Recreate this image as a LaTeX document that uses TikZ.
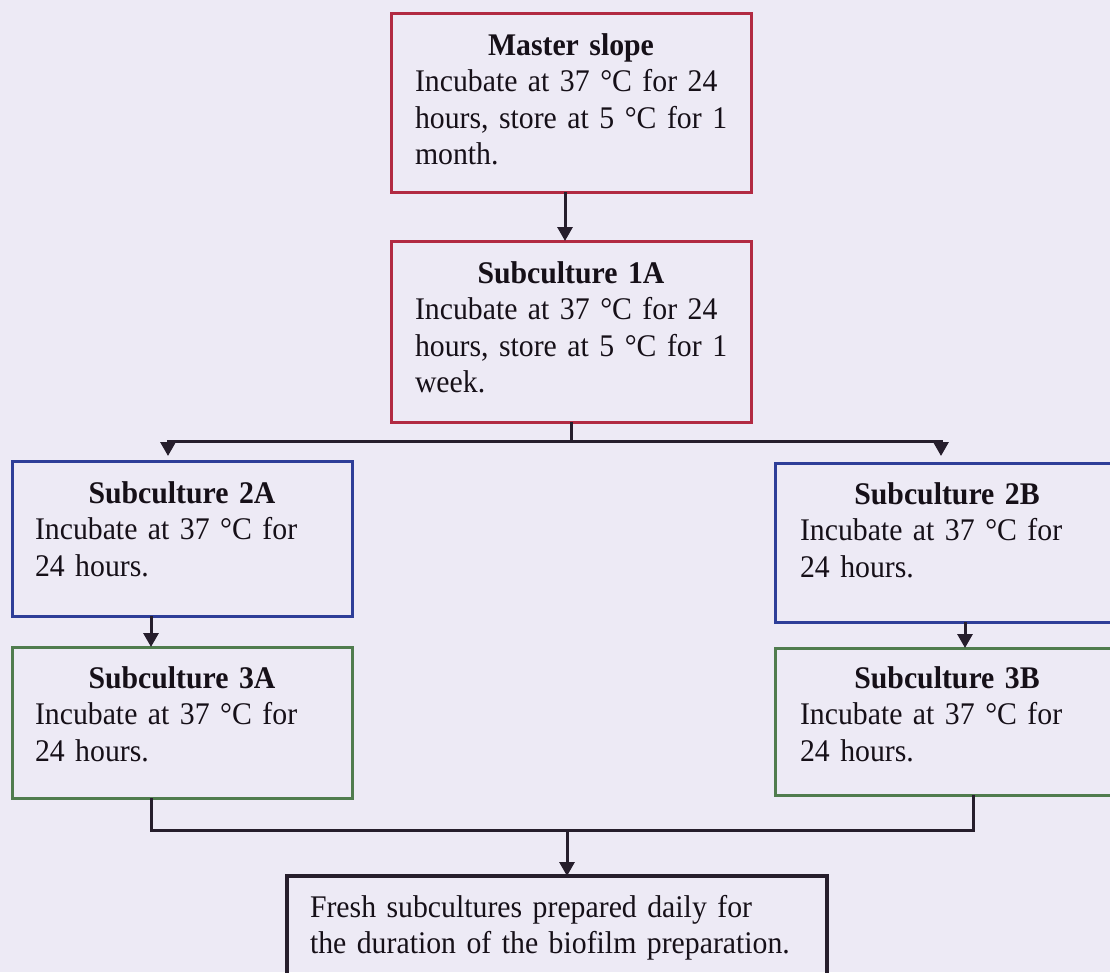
\documentclass[tikz,border=0pt]{standalone}
\usepackage{fontspec}
\setmainfont{Liberation Serif}[WordSpace=0.75, FakeStretch=0.945]
\usetikzlibrary{arrows.meta}

\definecolor{pagebg}{RGB}{237,234,245}
\definecolor{boxred}{RGB}{178,42,66}
\definecolor{boxblue}{RGB}{46,62,152}
\definecolor{boxgreen}{RGB}{80,124,78}
\definecolor{boxblack}{RGB}{38,30,44}
\definecolor{ink}{RGB}{22,16,24}

% a centred heading line of a given width
\newcommand{\boxhead}[2]{\hbox to #1{\hss\bfseries #2\hss}}

\begin{document}
\begin{tikzpicture}[x=1pt,y=-1pt,
  box/.style={draw, rectangle, line width=3pt, inner sep=0pt, outer sep=0pt, anchor=north west},
  redbox/.style={box, draw=boxred},
  bluebox/.style={box, draw=boxblue},
  greenbox/.style={box, draw=boxgreen},
  blackbox/.style={box, draw=boxblack, line width=4pt},
  txt/.style={anchor=base west, inner sep=0pt, outer sep=0pt, align=left, text=ink,
              text width=400pt, font=\fontsize{31.5}{36.5}\selectfont},
  link/.style={draw=boxblack, line width=3pt},
  arr/.style={link, -{Triangle[width=15pt,length=14pt]}},
]
% page
\fill[pagebg] (0,0) rectangle (1110,972);
\useasboundingbox (0,0) rectangle (1110,972);
\clip (0,0) rectangle (1110,972);

% boxes
\node[redbox, minimum width=360pt, minimum height=179pt] (master) at (391,13) {};
\node[redbox, minimum width=360pt, minimum height=181pt] (sub1a) at (391,241) {};
\node[bluebox, minimum width=340pt, minimum height=155pt] (sub2a) at (12,461) {};
\node[greenbox, minimum width=340pt, minimum height=151pt] (sub3a) at (12,647) {};
\node[bluebox, minimum width=344pt, minimum height=159pt] (sub2b) at (775,463) {};
\node[greenbox, minimum width=344pt, minimum height=147pt] (sub3b) at (775,648) {};
\node[blackbox, minimum width=540pt, minimum height=140pt] (final) at (287,876) {};

% box texts
\node[txt] (mastertxt) at (415,55)
  {\boxhead{312pt}{Master slope}\\Incubate at 37 °C for 24\\hours, store at 5 °C for 1\\month.};
\node[txt] (sub1atxt) at (415,283)
  {\boxhead{312pt}{Subculture 1A}\\Incubate at 37 °C for 24\\hours, store at 5 °C for 1\\week.};
\node[txt] (sub2atxt) at (35,503)
  {\boxhead{294pt}{Subculture 2A}\\Incubate at 37 °C for\\24 hours.};
\node[txt] (sub3atxt) at (35,688)
  {\boxhead{294pt}{Subculture 3A}\\Incubate at 37 °C for\\24 hours.};
\node[txt] (sub2btxt) at (800,504)
  {\boxhead{294pt}{Subculture 2B}\\Incubate at 37 °C for\\24 hours.};
\node[txt] (sub3btxt) at (800,688)
  {\boxhead{294pt}{Subculture 3B}\\Incubate at 37 °C for\\24 hours.};
\node[txt, text width=520pt] (finaltxt) at (310,917)
  {Fresh subcultures prepared daily for\\the duration of the biofilm preparation.};

% connectors
\draw[arr] ([xshift=-6pt]master.south) -- ([xshift=-6pt]sub1a.north);

\coordinate (split) at (571,441);
\coordinate (in2a) at ([xshift=-14pt]sub2a.north);
\coordinate (in2b) at ([xshift=-6pt]sub2b.north);
\draw[link] (sub1a.south) -- (split);
\draw[arr, shorten >=5pt] (split) -| (in2a);
\draw[arr, shorten >=7pt] (split) -| (in2b);

\draw[arr] ([xshift=-31pt]sub2a.south) -- ([xshift=-31pt]sub3a.north);
\draw[arr] ([xshift=18pt]sub2b.south) -- ([xshift=18pt]sub3b.north);

\coordinate (merge) at (567,830);
\draw[link] ([xshift=-31pt]sub3a.south) -- ++(0,32) -| ([xshift=26pt]sub3b.south);
\draw[arr] (merge) -- (merge |- final.north);
\end{tikzpicture}
\end{document}
